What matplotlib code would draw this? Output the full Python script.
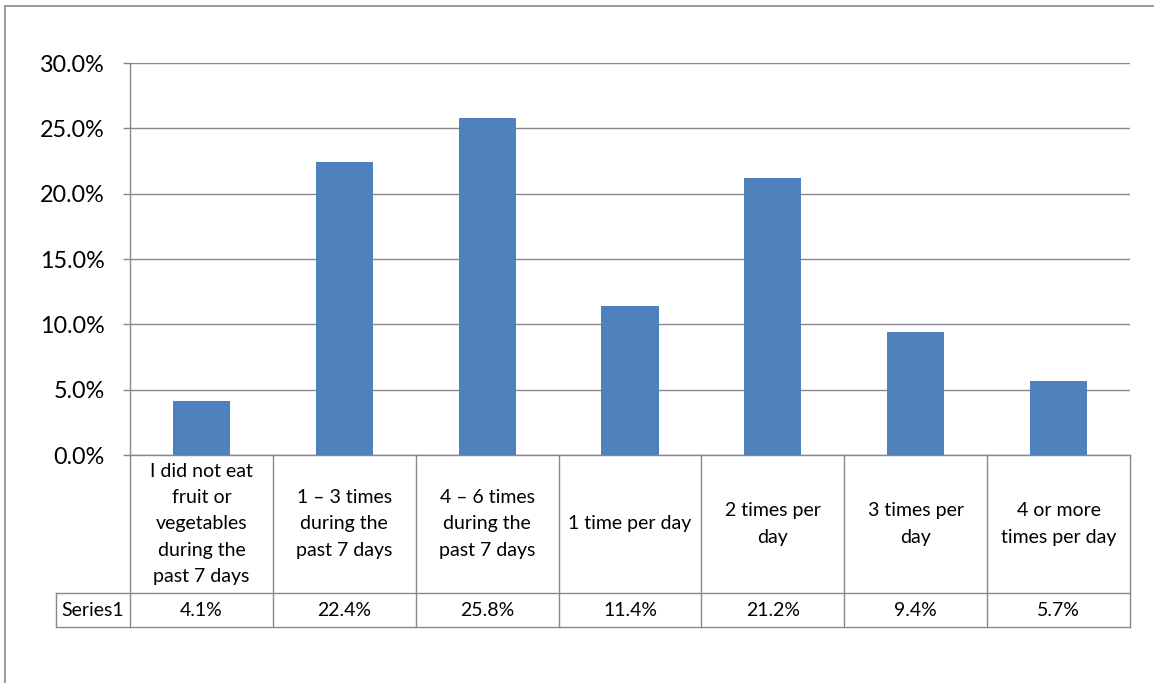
import matplotlib
matplotlib.use("Agg")
import matplotlib.pyplot as plt
from matplotlib.ticker import PercentFormatter, MultipleLocator
from matplotlib.lines import Line2D

categories = [
    "I did not eat\nfruit or\nvegetables\nduring the\npast 7 days",
    "1 \u2013 3 times\nduring the\npast 7 days",
    "4 \u2013 6 times\nduring the\npast 7 days",
    "1 time per day",
    "2 times per\nday",
    "3 times per\nday",
    "4 or more\ntimes per day",
]
values = [4.1, 22.4, 25.8, 11.4, 21.2, 9.4, 5.7]
series_name = "Series1"
y_ticks = [0, 5, 10, 15, 20, 25, 30]

plt.rcParams["font.family"] = ["Lato", "DejaVu Sans"]

W, H = 1154, 683
fig = plt.figure(figsize=(W / 100, H / 100), dpi=100)

grid_col = "#888888"
bar_col = "#4F81BD"
table_fs = 14.0

# plot area in pixel coordinates
px_left, px_right, px_top, px_bottom = 130, 1130, 63, 455
ax = fig.add_axes([px_left / W, 1 - px_bottom / H,
                   (px_right - px_left) / W, (px_bottom - px_top) / H])

n = len(values)
x = list(range(n))
ax.bar(x, values, width=0.4, color=bar_col, zorder=3)
ax.set_xlim(-0.5, n - 0.5)
ax.set_ylim(y_ticks[0], y_ticks[-1])
ax.yaxis.set_major_locator(MultipleLocator(5))
ax.yaxis.set_major_formatter(PercentFormatter(decimals=1))
ax.grid(axis="y", color=grid_col, linewidth=1.0, zorder=0)
ax.set_xticks([])
for side in ["top", "right"]:
    ax.spines[side].set_visible(False)
for side in ["left", "bottom"]:
    ax.spines[side].set_color(grid_col)
    ax.spines[side].set_linewidth(1.0)
ax.tick_params(axis="y", length=5, width=1.0, color=grid_col, pad=13,
               labelsize=16.8, labelcolor="black")

# data table below the plot area
axh = px_bottom - px_top
cell_w = (px_right - px_left) / n
row1_bottom = -(593 - px_bottom) / axh
row2_bottom = -(627 - px_bottom) / axh
label_x0 = -0.5 - (px_left - 56) / cell_w
tr = ax.get_xaxis_transform()
lkw = dict(color=grid_col, linewidth=1.0, transform=tr, clip_on=False)

for b in [i - 0.5 for i in range(n + 1)]:
    ax.add_line(Line2D([b, b], [0, row2_bottom], **lkw))
for yy in [row1_bottom, row2_bottom]:
    ax.add_line(Line2D([label_x0, n - 0.5], [yy, yy], **lkw))
ax.add_line(Line2D([label_x0, label_x0], [row1_bottom, row2_bottom], **lkw))

for i, (cat, v) in enumerate(zip(categories, values)):
    ax.text(i, row1_bottom / 2, cat, transform=tr, ha="center", va="center",
            fontsize=table_fs, linespacing=1.65, clip_on=False)
    ax.text(i, (row1_bottom + row2_bottom) / 2, f"{v:.1f}%", transform=tr,
            ha="center", va="center", fontsize=table_fs, clip_on=False)
ax.text((label_x0 - 0.5) / 2, (row1_bottom + row2_bottom) / 2, series_name,
        transform=tr, ha="center", va="center", fontsize=table_fs, clip_on=False)

# outer chart frame
fkw = dict(color=grid_col, linewidth=1.2, transform=fig.transFigure)
fig.add_artist(Line2D([5 / W, 5 / W], [0, 1 - 6 / H], **fkw))
fig.add_artist(Line2D([5 / W, 1], [1 - 6 / H, 1 - 6 / H], **fkw))

fig.savefig("out.png", dpi=100, facecolor="white")
